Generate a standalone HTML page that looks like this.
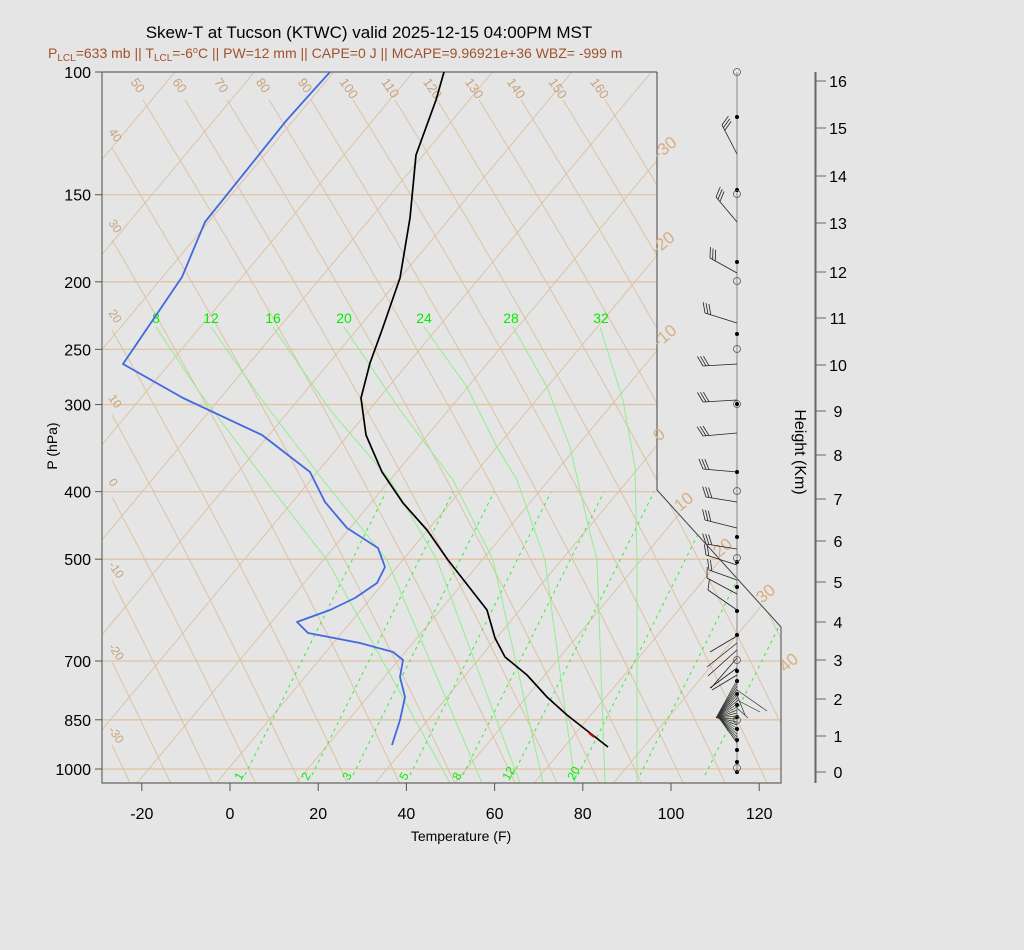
<!DOCTYPE html>
<html><head><meta charset="utf-8">
<style>
html,body{margin:0;padding:0;background:#e5e5e5;}
svg{display:block;font-family:"Liberation Sans",Arial,sans-serif;}
</style></head>
<body>
<svg id="s" width="1024" height="950" viewBox="0 0 1024 950" xmlns="http://www.w3.org/2000/svg">
<rect width="1024" height="950" fill="#e5e5e5"/>
<defs><clipPath id="cp"><polygon points="102,72 657,72 657,490 781,627 781,783 102,783"/></clipPath></defs>
<g id="grid" clip-path="url(#cp)"></g>
<g id="fg"></g>
<text x="369" y="38" font-size="17" text-anchor="middle" fill="#000">Skew-T at Tucson (KTWC) valid 2025-12-15 04:00PM MST</text>
<text x="48" y="58" font-size="14" fill="#a0522d">P<tspan font-size="10" dy="3">LCL</tspan><tspan dy="-3">=633 mb || T</tspan><tspan font-size="10" dy="3">LCL</tspan><tspan dy="-3">=-6</tspan><tspan font-size="9" dy="-5">o</tspan><tspan dy="5">C || PW=12 mm || CAPE=0 J || MCAPE=9.96921e+36 WBZ= -999 m</tspan></text>
<text x="461" y="841" font-size="14" text-anchor="middle">Temperature (F)</text>
<text transform="translate(57,446) rotate(-90)" font-size="14" text-anchor="middle">P (hPa)</text>
<text transform="translate(795,452) rotate(90)" font-size="16" text-anchor="middle">Height (Km)</text>
</svg>
<script>
var NS="http://www.w3.org/2000/svg";
var G=document.getElementById('grid'),F=document.getElementById('fg');
function el(p,t,a,txt){var e=document.createElementNS(NS,t);for(var k in a)e.setAttribute(k,a[k]);if(txt!==undefined)e.textContent=txt;p.appendChild(e);return e;}
function Y(p){return 72+302.7*Math.log(p/100);}
var tan="#dcc0a0",tanL="#c9a27a";
[150,200,250,300,400,500,700,850,1000].forEach(function(p){var y=Y(p);el(G,'line',{x1:102,y1:y,x2:781,y2:y,stroke:"#e0c4a4","stroke-width":1.3});});
for(var k=-12;k<14;k++){var xt=175+79.4*k;el(G,'line',{x1:xt,y1:72,x2:xt-0.835*711,y2:783,stroke:tan,"stroke-width":0.9});}
function dry(x0,y0){var pts=[];for(var y=y0;y<=790;y+=8){var f=function(yy){return 0.62*(yy-100)-0.00011*(yy-100)*(yy-100);};pts.push((x0+f(y)-f(y0)).toFixed(1)+","+y);}el(G,'polyline',{points:pts.join(" "),fill:"none",stroke:tan,"stroke-width":0.9});}
for(var i=0;i<12;i++)dry(143+42*i,100);
[148,240,330,415,497,580,662,745].forEach(function(y){dry(112,y);});
[245,312,353,410,463,513,578,640,705].forEach(function(x){el(G,'line',{x1:x,y1:775,x2:x+141,y2:492,stroke:"#33ee33","stroke-width":1,"stroke-dasharray":"3,4"});});
var ma=[[[156,327],[200,393],[265,480],[327,560],[450,783]],
[[211,327],[262,400],[323,480],[387,560],[482,783]],
[[273,327],[330,410],[390,480],[437,560],[520,783]],
[[344,327],[400,410],[453,480],[493,560],[543,783]],
[[424,327],[467,387],[497,447],[517,480],[545,560],[575,783]],
[[513,327],[547,387],[570,447],[590,533],[597,560],[605,783]],
[[600,327],[623,400],[635,467],[637,560],[637,783]]];
ma.forEach(function(c){el(G,'polyline',{points:c.map(function(p){return p.join(",");}).join(" "),fill:"none",stroke:"#8fef8f","stroke-width":1});});
el(F,'polyline',{points:"657,72 102,72 102,783 781,783 781,627",fill:"none",stroke:"#666","stroke-width":1.2});
el(F,'polyline',{points:"657,72 657,490 781,627",fill:"none",stroke:"#444","stroke-width":1});
[50,60,70,80,90,100,110,120,130,140,150,160].forEach(function(v,i){el(F,'text',{transform:"translate("+(130+41.8*i)+",82) rotate(55)","font-size":13,fill:tanL},v);});
[40,30,20,10,0,-10,-20,-30].forEach(function(v,i){var y=[132,223,313,398,482,565,647,730][i];el(F,'text',{transform:"translate(108,"+y+") rotate(55)","font-size":12,fill:tanL},v);});
[[-30,659,160],[-20,657,255],[-10,659,348],[0,659,442],[10,680,512],[20,719,558],[30,762,604],[40,785,673]].forEach(function(a){el(F,'text',{transform:"translate("+a[1]+","+a[2]+") rotate(-40)","font-size":17,fill:"#d8ae80"},a[0]);});
[[8,156],[12,211],[16,273],[20,344],[24,424],[28,511],[32,601]].forEach(function(a){el(F,'text',{x:a[1],y:323,"font-size":14,fill:"#00ee00","text-anchor":"middle"},a[0]);});
[[1,245],[2,312],[3,353],[5,410],[8,463],[12,513],[20,578]].forEach(function(a){el(F,'text',{transform:"translate("+(a[1]-4)+",781) rotate(-62)","font-size":12,fill:"#00ee00"},a[0]);});
function pl(pts,c,w){el(F,'polyline',{points:pts.map(function(p){return p.join(",");}).join(" "),fill:"none",stroke:c,"stroke-width":w,"stroke-linejoin":"round"});}
pl([[330,72],[311,93],[286,121],[205,222],[182,277],[123,364],[183,398],[262,435],[310,472],[325,502],[347,528],[378,548],[385,567],[377,583],[355,598],[330,610],[297,622],[308,633],[360,643],[393,652],[403,660],[400,677],[405,697],[400,720],[392,745]],"#4169e1",1.8);
pl([[444,72],[436,100],[416,155],[410,218],[400,278],[382,330],[370,363],[361,398],[366,435],[382,472],[403,503],[427,530],[448,560],[487,610],[495,638],[505,657],[527,675],[547,697],[567,715],[590,733],[608,747]],"#000",1.7);
el(F,'line',{x1:589,y1:733,x2:594,y2:737,stroke:"#d00","stroke-width":2});
[[100,72],[150,194],[200,281],[250,349],[300,404],[400,491],[500,559],[700,661],[850,719],[1000,769]].forEach(function(a){var y=Y(a[0]);el(F,'line',{x1:95,y1:y,x2:102,y2:y,stroke:"#555"});el(F,'text',{x:91,y:y+6,"font-size":16,"text-anchor":"end"},a[0]);});
[-20,0,20,40,60,80,100,120].forEach(function(t){var x=230+4.41*t;el(F,'line',{x1:x,y1:783,x2:x,y2:791,stroke:"#555"});el(F,'text',{x:x,y:819,"font-size":16,"text-anchor":"middle"},t);});
el(F,'line',{x1:815.5,y1:72,x2:815.5,y2:783,stroke:"#666","stroke-width":2});
[772,736,699,660,622,582,541,499,455,411,365,318,272,223,176,128,81].forEach(function(y,i){el(F,'line',{x1:816,y1:y,x2:826,y2:y,stroke:"#666"});el(F,'text',{x:838,y:y+6,"font-size":16,"text-anchor":"middle"},i);});
el(F,'line',{x1:737,y1:72,x2:737,y2:772,stroke:"#888","stroke-width":1});
[117,190,262,334,404,472,537,562,587,611,635,671,681,694,705,717,729,740,750,762,772].forEach(function(y){el(F,'circle',{cx:737,cy:y,r:2,fill:"#000"});});
[72,194,281,349,404,491,558,660,720,768].forEach(function(y){el(F,'circle',{cx:737,cy:y,r:3.5,fill:"none",stroke:"#555","stroke-width":0.8});});
function barb(by,tx,ty,n){el(F,'line',{x1:737,y1:by,x2:tx,y2:ty,stroke:"#222","stroke-width":0.8});var dx=tx-737,dy=ty-by,L=Math.hypot(dx,dy),ux=dx/L,uy=dy/L;for(var j=0;j<n;j++){var px=tx-ux*3*j,py=ty-uy*3*j;var a=1.1;var fx=ux*Math.cos(a)-uy*Math.sin(a),fy=ux*Math.sin(a)+uy*Math.cos(a);el(F,'line',{x1:px,y1:py,x2:px+fx*11,y2:py+fy*11,stroke:"#222","stroke-width":0.8});}}
barb(154,722,125,3);barb(222,716,197,3);barb(273,710,258,3);barb(323,705,313,3);barb(364,703,366,3);barb(400,703,402,3);barb(433,703,436,3);
barb(472,703,469,3);barb(502,706,497,3);barb(528,705,520,3);barb(549,706,544,3);barb(565,706,555,2);barb(580,709,570,2);barb(594,707,578,1);barb(610,708,590,1);
[[636,710,652],[643,707,667],[650,708,676],[658,711,688],[668,710,688],[675,712,690]].forEach(function(b){barb(b[0],b[1],b[2],0);});
for(var y=680;y<=745;y+=3){el(F,'line',{x1:737,y1:y,x2:716+(y-680)*0.05,y2:718,stroke:"#333","stroke-width":0.7});}
[[690,767,711],[700,760,712],[708,748,718],[695,745,715]].forEach(function(b){el(F,'line',{x1:737,y1:b[0],x2:b[1],y2:b[2],stroke:"#333","stroke-width":0.7});});
</script>
</body></html>
